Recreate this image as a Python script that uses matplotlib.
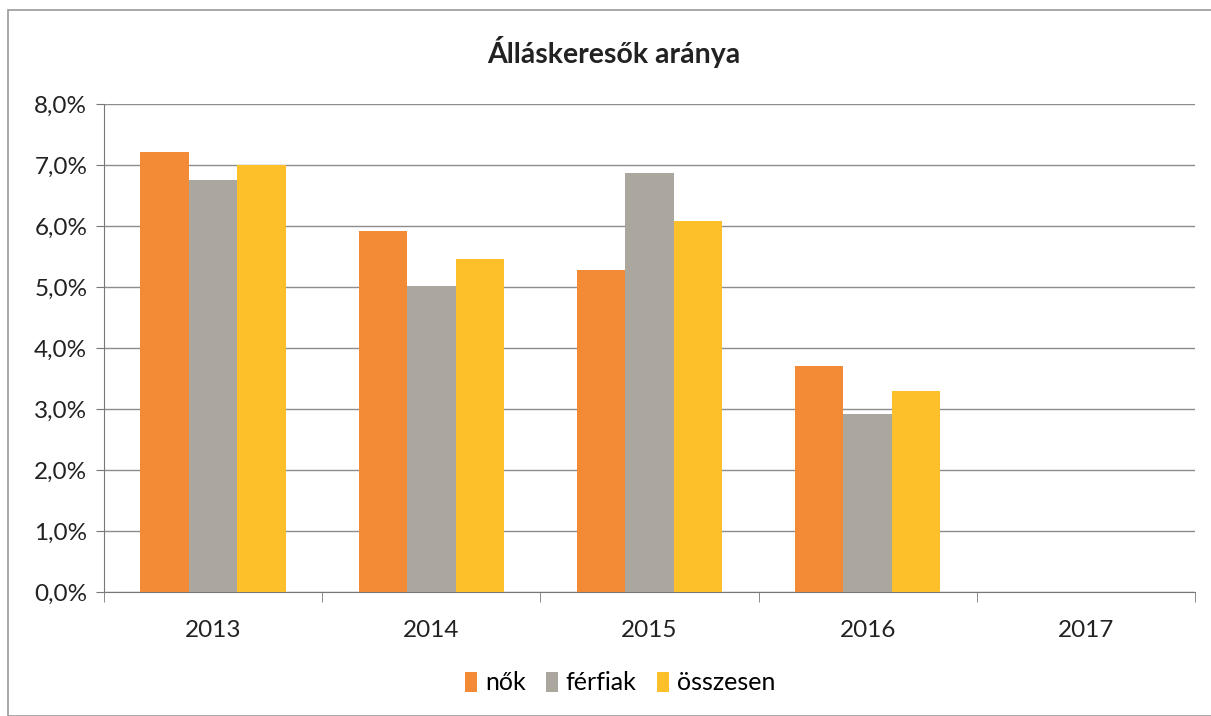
import matplotlib
matplotlib.use("Agg")
import matplotlib.pyplot as plt
import numpy as np
from matplotlib.patches import Rectangle
from matplotlib.ticker import FuncFormatter, MultipleLocator

plt.rcParams['font.family'] = ['Lato', 'DejaVu Sans']

years = ["2013", "2014", "2015", "2016", "2017"]
nok = [7.22, 5.92, 5.28, 3.70, np.nan]
ferfiak = [6.76, 5.02, 6.87, 2.91, np.nan]
osszesen = [7.00, 5.46, 6.09, 3.30, np.nan]
series_names = ["nők", "férfiak", "összesen"]
colors = ["#F38A35", "#ABA79E", "#FDBF2A"]

fig = plt.figure(figsize=(12.11, 7.16), dpi=100)
ax = fig.add_axes([104/1211, 1-592/716, (1195-104)/1211, (592-104)/716])

x = np.arange(len(years))
w = 1/4.5
for i, (vals, name, c) in enumerate(zip([nok, ferfiak, osszesen], series_names, colors)):
    ax.bar(x + (i-1)*w, vals, width=w, color=c, label=name, zorder=3)

ax.set_xlim(-0.5, len(years)-0.5)
ax.set_ylim(0, 8)
ax.yaxis.set_major_locator(MultipleLocator(1))
ax.yaxis.set_major_formatter(FuncFormatter(lambda v, p: f"{v:.1f}%".replace('.', ',')))
ax.grid(axis='y', color='#8c8c8c', linewidth=1.0, zorder=0)
ax.set_xticks(x)
ax.set_xticklabels(years)
ax.set_xticks(np.arange(-0.5, len(years)), minor=True)
ax.tick_params(axis='x', which='major', length=0, pad=20, labelsize=17.5, colors='#222222')
ax.tick_params(axis='x', which='minor', length=7, color='#777777')
ax.tick_params(axis='y', length=6, color='#777777', labelsize=17.5, colors='#222222', pad=6)
for s in ['top', 'right']:
    ax.spines[s].set_visible(False)
ax.spines['left'].set_color('#777777')
ax.spines['bottom'].set_color('#777777')

fig.text(0.507, 1-52/716, "Álláskeresők aránya", ha='center', va='center',
         fontsize=20.5, fontweight='bold', color='#222222')

ax.legend(loc='center', bbox_to_anchor=(620/1211, 1-683/716), bbox_transform=fig.transFigure,
          ncol=3, frameon=False, fontsize=18, handlelength=0.5, handleheight=0.9,
          handletextpad=0.3, columnspacing=0.8)

fig.patches.append(Rectangle((8/1211, 0), 1.2, 1-10/716, transform=fig.transFigure,
                             fill=False, edgecolor='#999999', linewidth=1.2))

fig.savefig("out.png", dpi=100)
